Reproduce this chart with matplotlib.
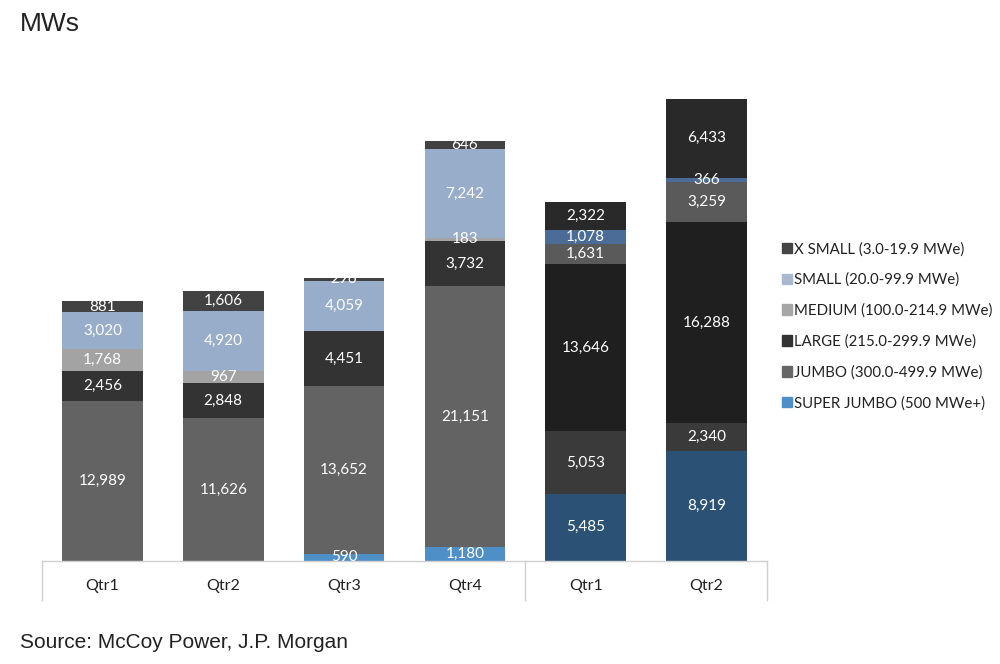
import numpy as np
import matplotlib.pyplot as plt

# quarters (first four = year 1, last two = year 2)
quarters = ["Qtr1", "Qtr2", "Qtr3", "Qtr4", "Qtr1", "Qtr2"]

series_names = [
    "SUPER JUMBO (500 MWe+)",
    "JUMBO (300.0-499.9 MWe)",
    "LARGE (215.0-299.9 MWe)",
    "MEDIUM (100.0-214.9 MWe)",
    "SMALL (20.0-99.9 MWe)",
    "X SMALL (3.0-19.9 MWe)",
]

super_jumbo = [0, 0, 590, 1180, 5485, 8919]
jumbo = [12989, 11626, 13652, 21151, 5053, 2340]
large = [2456, 2848, 4451, 3732, 13646, 16288]
medium = [1768, 967, 0, 183, 1631, 3259]
small = [3020, 4920, 4059, 7242, 1078, 366]
x_small = [881, 1606, 296, 646, 2322, 6433]

values = [super_jumbo, jumbo, large, medium, small, x_small]

# colours: earlier quarters vs. the two recent (darker) quarters
colors_old = ["#4f8fc7", "#636363", "#333333", "#a3a3a3", "#98adca", "#424242"]
colors_new = ["#2b5275", "#3a3a3a", "#1f1f1f", "#5a5a5a", "#4a6c96", "#292929"]
legend_colors = ["#4f8fc7", "#666666", "#333333", "#a6a6a6", "#a9b8cf", "#444444"]

label_font = "Lato"

fig = plt.figure(figsize=(10, 6.64), dpi=100)
ax = fig.add_axes([0.042, 0.155, 0.725, 0.71])

x = np.arange(len(quarters))
bottom = np.zeros(len(quarters))
for i, vals in enumerate(values):
    vals = np.array(vals, dtype=float)
    cols = [colors_old[i] if j < 4 else colors_new[i] for j in range(len(quarters))]
    ax.bar(x, vals, width=0.667, bottom=bottom, color=cols, linewidth=0)
    for j, v in enumerate(vals):
        if v > 0:
            ax.text(x[j], bottom[j] + v / 2, f"{int(v):,}", ha="center", va="center",
                    color="white", fontsize=11, family=label_font)
    bottom += vals

ax.set_xlim(-0.5, 5.5)
ax.set_ylim(0, 38330)
ax.set_yticks([])
ax.set_xticks(x)
ax.set_xticklabels(quarters, fontsize=11.5, family=label_font, color="#222222")
ax.tick_params(axis="x", length=0, pad=13)
for side in ["top", "right", "left"]:
    ax.spines[side].set_visible(False)
ax.spines["bottom"].set_color("#d0d0d0")
ax.spines["bottom"].set_linewidth(1)

# category group separators below the axis
for xs in [-0.5, 3.5, 5.5]:
    ax.plot([xs, xs], [0, -0.083], transform=ax.get_xaxis_transform(),
            color="#d0d0d0", lw=1, clip_on=False)

# legend (top entry = X SMALL)
handles = [plt.Rectangle((0, 0), 1, 1, color=legend_colors[i]) for i in range(6)][::-1]
fig.legend(handles, series_names[::-1], loc="upper left", bbox_to_anchor=(0.768, 0.656),
           frameon=False, prop={"family": label_font, "size": 10.8},
           handlelength=0.7, handleheight=0.7, handletextpad=0.15, labelspacing=1.1,
           labelcolor="#222222")

fig.text(0.02, 0.964, "MWs", fontsize=19, family=["Liberation Sans", "DejaVu Sans"],
         color="#222222", va="center")
fig.text(0.02, 0.033, "Source: McCoy Power, J.P. Morgan", fontsize=15,
         family=["Liberation Sans", "DejaVu Sans"], color="#222222", va="center")

fig.savefig("out.png", dpi=100)
